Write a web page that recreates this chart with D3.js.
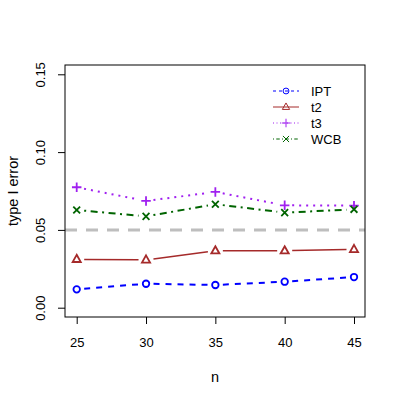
<!DOCTYPE html>
<html>
<head>
<meta charset="utf-8">
<script src="https://cdn.jsdelivr.net/npm/d3@7"></script>
<style>
  body { margin: 0; background: #fff; }
  text { font-family: "Liberation Sans", Arial, sans-serif; fill: #000; }
</style>
</head>
<body>
<div id="chart"></div>
<script>
// Data
const nValues = [25, 30, 35, 40, 45];
const iptValues = [0.0118, 0.0154, 0.0146, 0.0167, 0.0197];
const t2Values = [0.0311, 0.0307, 0.0366, 0.0366, 0.0375];
const t3Values = [0.0774, 0.0686, 0.0744, 0.0658, 0.0656];
const wcbValues = [0.0628, 0.0587, 0.0665, 0.0611, 0.0632];
const yTicks = [0.00, 0.05, 0.10, 0.15];
const refLevel = 0.05;

const seriesNames = ['IPT', 't2', 't3', 'WCB'];
const seriesValues = [iptValues, t2Values, t3Values, wcbValues];
const seriesColors = ['#0000FF', '#A52A2A', '#A020F0', '#006400'];
const seriesDash = ['6,6', null, '2,5', '2,4.5,7,4.5'];
const seriesShape = ['circle', 'triangle', 'plus', 'cross'];

const width = 399, height = 399;
const box = { left: 65, right: 365, top: 65, bottom: 317 };

const svg = d3.select('#chart').append('svg')
  .attr('width', width)
  .attr('height', height);

const x = d3.scaleLinear().domain([25, 45]).range([76.7, 354]);
const y = d3.scaleLinear().domain([0, 0.15]).range([307.7, 74.3]);

// Reference line at 0.05
svg.append('line')
  .attr('x1', box.left).attr('x2', box.right)
  .attr('y1', y(refLevel)).attr('y2', y(refLevel))
  .attr('stroke', '#BEBEBE')
  .attr('stroke-width', 3)
  .attr('stroke-dasharray', '12,9');

// Axes
const xAxis = d3.axisBottom(x).tickValues(nValues).tickSize(7);
const gx = svg.append('g')
  .attr('transform', `translate(0,${box.bottom})`)
  .call(xAxis);
gx.select('.domain').remove();
gx.selectAll('text').attr('font-size', 13).attr('y', 25).attr('dy', '0.35em');

const yAxis = d3.axisLeft(y).tickValues(yTicks).tickSize(7).tickFormat(d3.format('.2f'));
const gy = svg.append('g')
  .attr('transform', `translate(${box.left},0)`)
  .call(yAxis);
gy.select('.domain').remove();
gy.selectAll('.tick text')
  .attr('font-size', 13)
  .attr('text-anchor', 'middle')
  .attr('x', 0)
  .attr('transform', 'translate(-25,0) rotate(-90)')
  .attr('dy', '0.35em');

// Plot frame
svg.append('rect')
  .attr('x', box.left).attr('y', box.top)
  .attr('width', box.right - box.left).attr('height', box.bottom - box.top)
  .attr('fill', 'none').attr('stroke', '#000').attr('stroke-width', 1);

// Axis titles
svg.append('text')
  .attr('x', (box.left + box.right) / 2).attr('y', 377)
  .attr('text-anchor', 'middle').attr('dy', '0.35em')
  .attr('font-size', 14.5).text('n');
svg.append('text')
  .attr('transform', `translate(13,${(box.top + box.bottom) / 2}) rotate(-90)`)
  .attr('text-anchor', 'middle').attr('dy', '0.35em')
  .attr('font-size', 14.5).text('type I error');

// Marker drawing helper
function drawMarker(g, shape, cx, cy, color, s, sw) {
  if (shape === 'circle') {
    g.append('circle').attr('cx', cx).attr('cy', cy).attr('r', s * 0.65)
      .attr('fill', 'none').attr('stroke', color).attr('stroke-width', sw);
  } else if (shape === 'triangle') {
    const r = s * 0.9;
    g.append('path')
      .attr('d', `M${cx},${cy - r}L${cx + r * 0.9},${cy + r * 0.6}L${cx - r * 0.9},${cy + r * 0.6}Z`)
      .attr('fill', 'none').attr('stroke', color).attr('stroke-width', sw);
  } else if (shape === 'plus') {
    const r = s * 0.95;
    g.append('path')
      .attr('d', `M${cx - r},${cy}H${cx + r}M${cx},${cy - r}V${cy + r}`)
      .attr('stroke', color).attr('stroke-width', sw);
  } else {
    const r = s * 0.68;
    g.append('path')
      .attr('d', `M${cx - r},${cy - r}L${cx + r},${cy + r}M${cx - r},${cy + r}L${cx + r},${cy - r}`)
      .attr('stroke', color).attr('stroke-width', sw);
  }
}

// Series: segments with a gap around each marker, like R type "b"
seriesValues.forEach((vals, k) => {
  const g = svg.append('g');
  for (let i = 0; i < vals.length - 1; i++) {
    const x0 = x(nValues[i]), y0 = y(vals[i]);
    const x1 = x(nValues[i + 1]), y1 = y(vals[i + 1]);
    const len = Math.hypot(x1 - x0, y1 - y0), gap = 7.5;
    const ux = (x1 - x0) / len, uy = (y1 - y0) / len;
    g.append('path')
      .attr('d', d3.line()([[x0 + ux * gap, y0 + uy * gap], [x1 - ux * gap, y1 - uy * gap]]))
      .attr('fill', 'none')
      .attr('stroke', seriesColors[k])
      .attr('stroke-width', k === 1 ? 1.5 : 2)
      .attr('stroke-dasharray', seriesDash[k]);
  }
  vals.forEach((v, i) => drawMarker(g, seriesShape[k], x(nValues[i]), y(v), seriesColors[k], 5, 1.8));
});

// Legend
const legend = svg.append('g');
seriesNames.forEach((name, k) => {
  const ly = 91 + k * 16;
  legend.append('line')
    .attr('x1', 273).attr('x2', 299).attr('y1', ly).attr('y2', ly)
    .attr('stroke', seriesColors[k]).attr('stroke-width', 1)
    .attr('stroke-dasharray', seriesDash[k] ? seriesDash[k].split(',').map(v => v / 2).join(',') : null);
  drawMarker(legend, seriesShape[k], 286, ly, seriesColors[k], 4.5, 1);
  legend.append('text')
    .attr('x', 311).attr('y', ly).attr('dy', '0.35em')
    .attr('font-size', 13).text(name);
});
</script>
</body>
</html>
